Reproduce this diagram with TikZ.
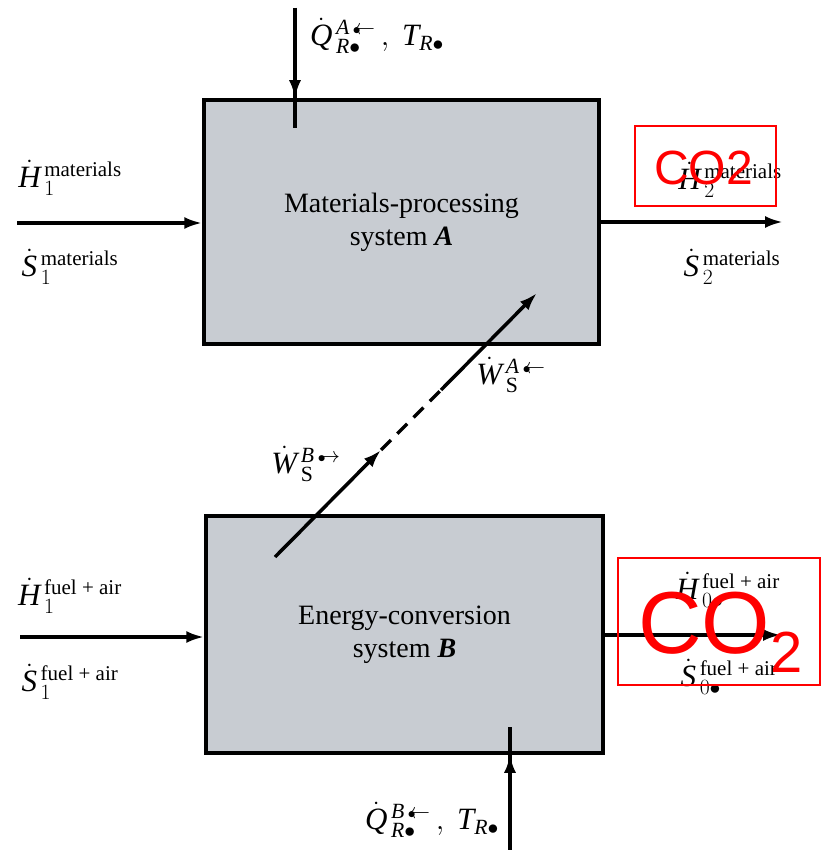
\documentclass[tikz,border=0pt]{standalone}
\usepackage{fix-cm}
\usepackage{amsmath}
\usepackage{fontspec}
\setmainfont{Liberation Serif}
\setsansfont{Liberation Sans}
\usetikzlibrary{arrows.meta}
\definecolor{boxfill}{RGB}{200,204,210}
\definecolor{cored}{RGB}{255,0,0}
\newcommand{\ltx}[1]{\mbox{\fontsize{21}{21}\selectfont #1}}
\newcommand{\dv}[1]{\dot{\mathit{#1}}}
\newcommand{\la}{\,{\scriptscriptstyle\bullet}\!\!\leftarrow}
\newcommand{\ra}{\,{\scriptscriptstyle\bullet}\!\!\rightarrow}
\tikzset{
  sysbox/.style={draw=black, fill=boxfill, line width=3.5pt, align=center,
    font=\fontsize{28}{33}\selectfont},
  flow/.style={line width=3.5pt, -{Latex[length=18pt,width=12pt]}},
  plain/.style={line width=3.5pt},
  lbl/.style={inner sep=0pt, font=\fontsize{31}{34}\selectfont},
  redbox/.style={draw=cored, line width=2.5pt, inner sep=0pt},
  redtxt/.style={text=cored, inner sep=0pt, anchor=base west}
}
\begin{document}
\begin{tikzpicture}[x=1pt,y=-1pt]
\useasboundingbox (0,0) rectangle (822,850);
% systems
\node[sysbox, minimum width=395pt, minimum height=244pt] (A) at (401.5,222)
  {Materials-processing\\system \textbf{\textit{A}}};
\node[sysbox, minimum width=397pt, minimum height=237pt] (B) at (404.5,634.5)
  {Energy-conversion\\system \textbf{\textit{B}}};
% coordinates
\coordinate (inA) at (17,223);
\coordinate (outA) at (783,222);
\coordinate (inB) at (20,637);
\coordinate (outB) at (781,635);
\coordinate (qa) at (295,8);
\coordinate (qaend) at (295,128);
\coordinate (qb) at (510,850);
\coordinate (qbend) at (510,727);
\coordinate (w0) at (275,557);
\coordinate (w1) at (381,450);
\coordinate (w2) at (441,390);
\coordinate (w3) at (537,293);
% connectors
\draw[flow] (inA) -- (inA -| A.west);
\draw[flow] (outA -| A.east) -- (outA);
\draw[flow] (inB) -- (inB -| B.west);
\draw[flow] (outB -| B.east) -- (outB);
\draw[plain] (qa) -- (qaend);
\draw[flow] (qa) -- (qa |- A.north);
\draw[plain] (qb) -- (qbend);
\draw[flow] (qb) -- (qb |- B.south);
\draw[flow] (w0) -- (w1);
\draw[plain, dash pattern=on 14pt off 9pt] (w1) -- (w2);
\draw[flow] (w2) -- (w3);
% labels
\node[lbl] (h1m) at (70,178) {$\dv{H}^{\,\ltx{materials}}_{\,1}$};
\node[lbl] (s1m) at (70,267) {$\dv{S}^{\,\ltx{materials}}_{\,1}$};
\node[lbl] (h2m) at (730,180) {$\dv{H}^{\,\ltx{materials}}_{\,2}$};
\node[lbl] (s2m) at (732,267) {$\dv{S}^{\,\ltx{materials}}_{\,2}$};
\node[lbl] (h1f) at (70,596) {$\dv{H}^{\,\ltx{fuel + air}}_{\,1}$};
\node[lbl] (s1f) at (70,682) {$\dv{S}^{\,\ltx{fuel + air}}_{\,1}$};
\node[lbl] (h0f) at (728,590) {$\dv{H}^{\,\ltx{fuel + air}}_{\,0\bullet}$};
\node[lbl] (s0f) at (729,677) {$\dv{S}^{\,\ltx{fuel + air}}_{\,0\bullet}$};
\node[lbl] (qal) at (377,36) {$\dv{Q}^{\,\mathit{A}\la}_{\,\mathit{R}\bullet}\,,\ \mathit{T}_{\mathit{R}\bullet}$};
\node[lbl] (qbl) at (432,820) {$\dv{Q}^{\,\mathit{B}\la}_{\,\mathit{R}\bullet}\,,\ \mathit{T}_{\mathit{R}\bullet}$};
\node[lbl] (wa) at (511,375) {$\dv{W}^{\,\mathit{A}\la}_{\,\mathrm{S}}$};
\node[lbl] (wb) at (306,464) {$\dv{W}^{\,\mathit{B}\ra}_{\,\mathrm{S}}$};
% red overlays
\node[redbox, minimum width=141pt, minimum height=80pt] (co2a) at (705.5,166) {};
\node[redtxt, font=\sffamily\fontsize{48}{48}\selectfont] (co2at) at (654,185) {CO2};
\node[redbox, minimum width=202pt, minimum height=127pt] (co2b) at (719,621.5) {};
\node[redtxt, font=\sffamily\fontsize{88}{88}\selectfont] (co2bt) at (638,653)
  {CO\raisebox{-0.22em}{\fontsize{58}{58}\selectfont 2}};
\end{tikzpicture}
\end{document}
